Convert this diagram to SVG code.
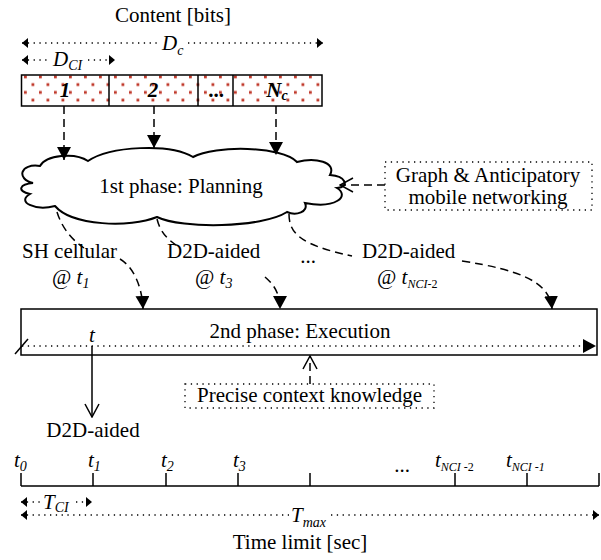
<svg xmlns="http://www.w3.org/2000/svg" width="601" height="560" viewBox="0 0 601 560">
<style>
text{font-family:"Liberation Serif","Times New Roman",serif;font-size:21px;fill:#000}
.i{font-style:italic}
.b{font-weight:bold}
.sub{font-size:14px}
.ssub{font-size:12px}
.box{fill:none;stroke:#000;stroke-width:1.5}
.dot{fill:none;stroke:#000;stroke-width:1.3;stroke-dasharray:1.3 4.5}
.dash{fill:none;stroke:#000;stroke-width:1.5;stroke-dasharray:8 5}
.solid{fill:none;stroke:#000;stroke-width:1.5}
</style>
<defs>
<pattern id="dots" x="21" y="75" width="30" height="15.5" patternUnits="userSpaceOnUse">
<rect x="3" y="0.5" width="2.8" height="2.8" fill="#c0392b"/>
<rect x="18" y="0.5" width="2.8" height="2.8" fill="#c0392b"/>
<rect x="10.5" y="8.2" width="2.8" height="2.8" fill="#c0392b"/>
<rect x="25.5" y="8.2" width="2.8" height="2.8" fill="#c0392b"/>
</pattern>
<marker id="fa" markerUnits="userSpaceOnUse" viewBox="0 0 13 14" refX="13" refY="7" markerWidth="13" markerHeight="14" orient="auto"><path d="M0,0 L13,7 L0,14 z" fill="#000"/></marker>
<marker id="oa" markerUnits="userSpaceOnUse" viewBox="-1 -1 15 16" refX="13" refY="7" markerWidth="15" markerHeight="16" orient="auto"><path d="M0,0 L13,7 L0,14" fill="none" stroke="#000" stroke-width="1.5"/></marker>
<marker id="sa" markerUnits="userSpaceOnUse" viewBox="0 0 6 10" refX="6" refY="5" markerWidth="6" markerHeight="10" orient="auto-start-reverse"><path d="M0,0 L6,5 L0,10 z" fill="#000"/></marker>
</defs>

<g id="title"><text x="173" y="22" text-anchor="middle">Content [bits]</text></g>

<g id="dc-arrow">
<path class="dot" d="M22,43 H158 M188,43 H323" marker-start="url(#sa)" marker-end="url(#sa)"/>
<text x="162" y="50" class="i">D<tspan class="sub" dy="5">c</tspan></text>
</g>
<g id="dci-arrow">
<path class="dot" d="M22,60 H51 M88,60 H115" marker-start="url(#sa)" marker-end="url(#sa)"/>
<text x="53" y="66" class="i">D<tspan class="sub" dy="4">CI</tspan></text>
</g>

<g id="content-strip">
<rect x="21.5" y="75" width="300.5" height="31" fill="url(#dots)" stroke="#000" stroke-width="1.5"/>
<line class="solid" x1="109" y1="75" x2="109" y2="106"/>
<line class="solid" x1="198" y1="75" x2="198" y2="106"/>
<line class="solid" x1="233" y1="75" x2="233" y2="106"/>
<text x="65" y="97" text-anchor="middle" class="i b">1</text>
<text x="153" y="97" text-anchor="middle" class="i b">2</text>
<text x="216" y="97" text-anchor="middle" class="b">...</text>
<text x="277" y="97" text-anchor="middle" class="i b">N<tspan class="sub" dy="3">c</tspan></text>
</g>

<g id="planning">
<path d="M33,183 C16,179 20,163 40,166 C46,155 75,152 88,161 C110,146 170,143 193,157 C215,145 282,146 297,162 C315,157 337,162 330,175 C346,176 350,187 337,188 C350,196 336,209 305,203 C309,212 296,216 287,212 C262,228 182,229 157,217 C130,228 72,226 55,206 C35,211 16,202 30,194 C16,191 20,184 33,183 Z" fill="#fff" stroke="#000" stroke-width="2"/>
<text x="181" y="193" text-anchor="middle">1st phase: Planning</text>
</g>

<g id="graph-box">
<rect class="dot" x="385" y="162" width="207" height="48"/>
<text x="488" y="182" text-anchor="middle">Graph &amp; Anticipatory</text>
<text x="488" y="204" text-anchor="middle">mobile networking</text>
</g>

<g id="execution">
<rect class="box" x="21" y="309" width="576" height="46"/>
<text x="300" y="338" text-anchor="middle">2nd phase: Execution</text>
<path class="dot" d="M22,346 H596" marker-end="url(#fa)"/>
<line class="solid" x1="15" y1="354" x2="28" y2="339"/>
<text x="92" y="342" text-anchor="middle" class="i">t</text>
</g>

<g id="context-box">
<rect class="dot" x="185" y="384" width="249" height="24"/>
<text x="309.5" y="402" text-anchor="middle">Precise context knowledge</text>
</g>

<g id="connectors">
<path class="dash" d="M64,106 V160" marker-end="url(#fa)"/>
<path class="dash" d="M154,106 V148" marker-end="url(#fa)"/>
<path class="dash" d="M276,106 V155" marker-end="url(#fa)"/>
<path class="dash" d="M385,185 H340" marker-end="url(#oa)"/>
<path class="dash" d="M57,212 C62,228 72,240 84,248 M120,259 C132,266 142,284 143,309" marker-end="url(#fa)"/>
<path class="dash" d="M157,219 C160,231 166,238 176,245 M265,277 C273,284 280,292 280,309" marker-end="url(#fa)"/>
<path class="dash" d="M289,214 C289,233 300,245 352,256 M462,261 C520,270 550,282 552,309" marker-end="url(#fa)"/>
<path class="dash" d="M310,384 V356" marker-end="url(#oa)"/>
<path class="solid" d="M92,346 V417" marker-end="url(#oa)"/>
</g>

<g id="labels">
<text x="22" y="258">SH cellular</text>
<text x="52" y="284">@ <tspan class="i">t</tspan><tspan class="sub i" dy="4">1</tspan></text>
<text x="167" y="258">D2D-aided</text>
<text x="195" y="284">@ <tspan class="i">t</tspan><tspan class="sub i" dy="4">3</tspan></text>
<text x="308" y="263" text-anchor="middle">...</text>
<text x="362" y="258">D2D-aided</text>
<text x="377" y="284">@ <tspan class="i">t</tspan><tspan class="ssub i" dy="4">NCI</tspan><tspan class="ssub">-2</tspan></text>
<text x="93" y="437" text-anchor="middle">D2D-aided</text>
</g>

<g id="timeline">
<path class="solid" d="M21,486 H599 M21,473 V486 M93,473 V486 M166,473 V486 M238,473 V486 M310,473 V486 M455,473 V486 M527,473 V486 M599,473 V486"/>
<text x="14" y="467" class="i">t<tspan class="sub" dy="4">0</tspan></text>
<text x="88" y="467" class="i">t<tspan class="sub" dy="4">1</tspan></text>
<text x="161" y="467" class="i">t<tspan class="sub" dy="4">2</tspan></text>
<text x="233" y="467" class="i">t<tspan class="sub" dy="4">3</tspan></text>
<text x="402" y="472" text-anchor="middle">...</text>
<text x="435" y="467" class="i">t<tspan class="ssub" dy="4">NCI</tspan><tspan class="ssub" font-style="normal"> -2</tspan></text>
<text x="506" y="467" class="i">t<tspan class="ssub" dy="4">NCI</tspan><tspan class="ssub"> -1</tspan></text>
</g>

<g id="tci-arrow">
<path class="dot" d="M21,502 H40 M76,502 H92" marker-start="url(#sa)" marker-end="url(#sa)"/>
<text x="43" y="509" class="i">T<tspan class="sub" dy="3">CI</tspan></text>
</g>
<g id="tmax-arrow">
<path class="dot" d="M21,515 H289 M331,515 H599" marker-start="url(#sa)" marker-end="url(#sa)"/>
<text x="291" y="522" class="i">T<tspan class="sub" dy="5">max</tspan></text>
</g>
<g id="footer"><text x="300" y="549" text-anchor="middle">Time limit [sec]</text></g>
</svg>
